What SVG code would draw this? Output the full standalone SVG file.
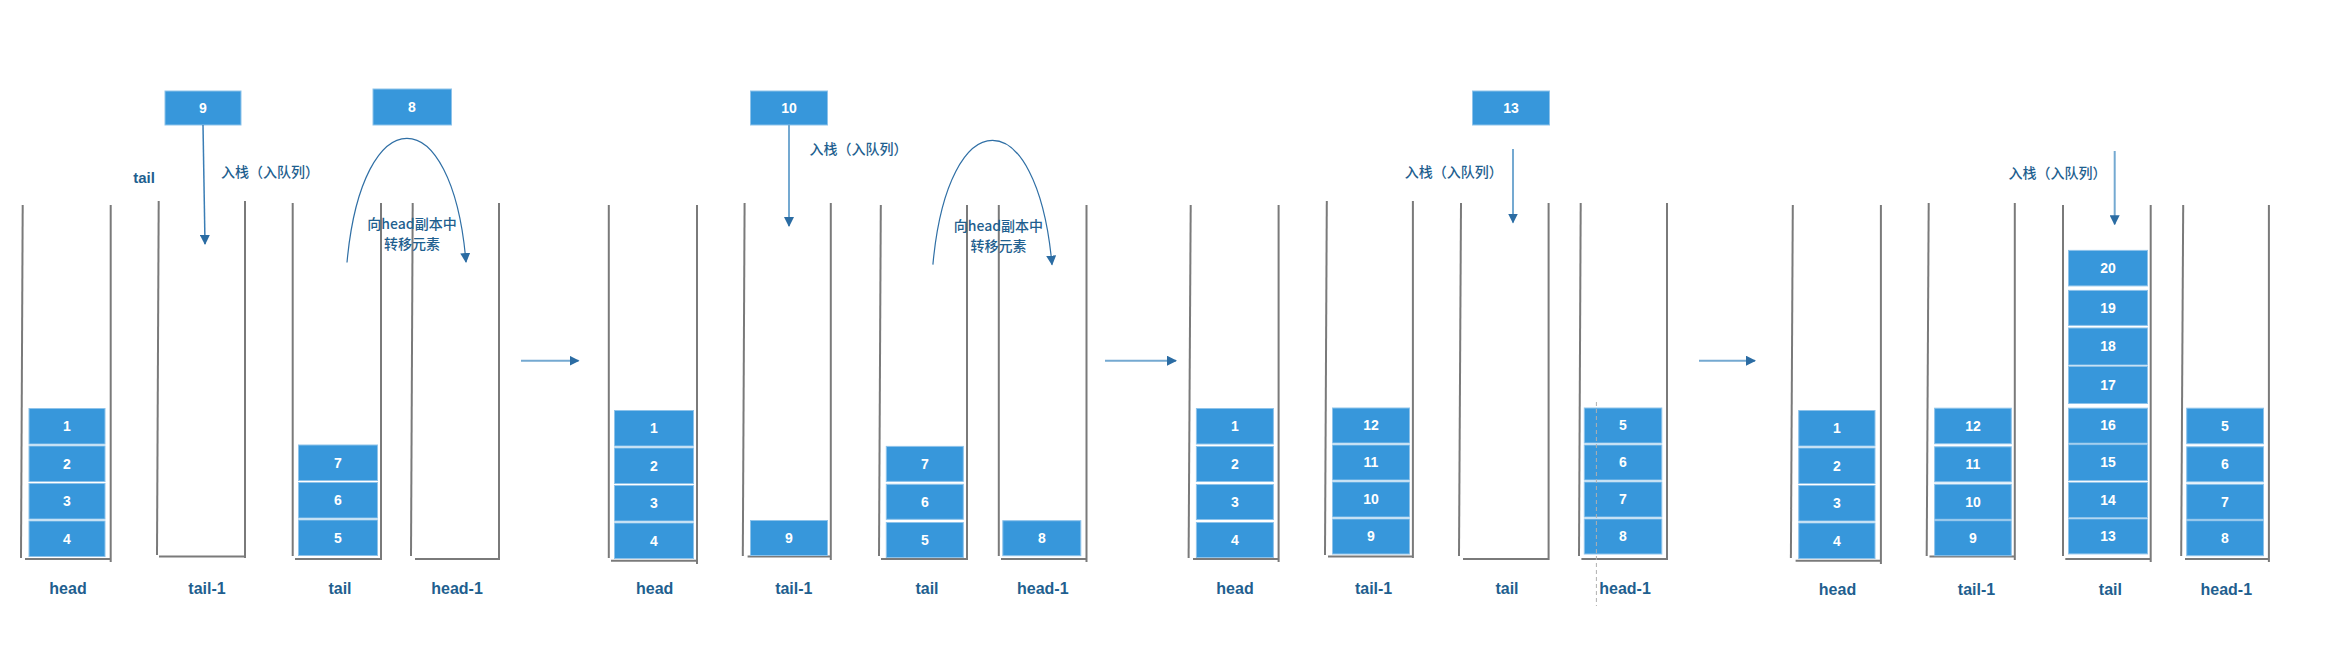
<svg xmlns="http://www.w3.org/2000/svg" width="2334" height="670" viewBox="0 0 2334 670">
<style>
.wall{stroke:#7a7a7a;stroke-width:2;fill:none}
.box{fill:#3797db;stroke:#8ec3ea;stroke-width:1}
.num{fill:#ffffff;font-family:"Liberation Sans","Noto Sans CJK SC",sans-serif;font-size:14px;font-weight:bold;text-anchor:middle}
.lbl{fill:#1f5f8f;font-family:"Liberation Sans","Noto Sans CJK SC",sans-serif;font-size:16px;font-weight:bold;text-anchor:middle}
.cjk{fill:#1f5f8f;font-family:"Noto Sans CJK SC",sans-serif;font-size:14px;font-weight:500;text-anchor:middle}
.arr{stroke:#74a9d1;stroke-width:2;fill:none;marker-end:url(#ah)}
.arrd{stroke:#3a7db5;stroke-width:1.5;fill:none;marker-end:url(#ah)}
.curve{stroke:#2f6fa5;stroke-width:1.2;fill:none;marker-end:url(#ah)}
.dash{stroke:#b0b0b0;stroke-width:1;stroke-dasharray:4 3;fill:none}
</style>
<defs>
<marker id="ah" viewBox="0 0 10 10" markerWidth="10" markerHeight="10" refX="9" refY="5" orient="auto" markerUnits="userSpaceOnUse">
<path d="M0,0 L10,5 L0,10 z" fill="#2b6ca3"/>
</marker>
</defs>
<rect width="2334" height="670" fill="#ffffff"/>

<!-- Panel 1 -->
<g id="p1-head">
<line class="wall" x1="22.7" y1="205" x2="21" y2="558"/><line class="wall" x1="110.7" y1="205" x2="110.7" y2="562"/><line class="wall" x1="25" y1="559" x2="110.7" y2="559"/>
<rect class="box" x="29" y="408.5" width="76" height="35.5"/><text class="num" x="67" y="431">1</text>
<rect class="box" x="29" y="446" width="76" height="35.5"/><text class="num" x="67" y="468.5">2</text>
<rect class="box" x="29" y="483.5" width="76" height="35.5"/><text class="num" x="67" y="506">3</text>
<rect class="box" x="29" y="521" width="76" height="35.5"/><text class="num" x="67" y="543.5">4</text>
<text class="lbl" x="68" y="594">head</text>
</g>
<g id="p1-tail1">
<line class="wall" x1="158.7" y1="201" x2="157" y2="555"/><line class="wall" x1="245" y1="201" x2="245" y2="558"/><line class="wall" x1="159" y1="556.5" x2="245" y2="556.5"/>
<text class="lbl" x="207" y="594">tail-1</text>
</g>
<g id="p1-tail">
<line class="wall" x1="292.7" y1="203" x2="292.7" y2="556"/><line class="wall" x1="381" y1="203" x2="381" y2="560"/><line class="wall" x1="295" y1="559" x2="381" y2="559"/>
<rect class="box" x="298.5" y="445" width="79" height="35.5"/><text class="num" x="338" y="467.5">7</text>
<rect class="box" x="298.5" y="482.5" width="79" height="35.5"/><text class="num" x="338" y="505">6</text>
<rect class="box" x="298.5" y="520" width="79" height="35.5"/><text class="num" x="338" y="542.5">5</text>
<text class="lbl" x="340" y="594">tail</text>
</g>
<g id="p1-head1">
<line class="wall" x1="412.7" y1="203" x2="411" y2="556"/><line class="wall" x1="499" y1="203" x2="499" y2="560"/><line class="wall" x1="415" y1="559" x2="499" y2="559"/>
<text class="lbl" x="457" y="594">head-1</text>
</g>
<g id="p1-in9"><rect class="box" x="165" y="91" width="76" height="34"/><text class="num" x="203" y="113">9</text></g>
<g id="p1-in8"><rect class="box" x="373" y="89" width="78.5" height="36"/><text class="num" x="412" y="112">8</text></g>
<g id="p1-texts">
<text class="lbl" x="144" y="183" style="font-size:15px">tail</text>
<text class="cjk" x="270" y="176.5">入栈（入队列）</text>
<text class="cjk" x="412" y="229">向head副本中</text>
<text class="cjk" x="412" y="249">转移元素</text>
</g>

<!-- Panel 2 -->
<g id="p2-head">
<line class="wall" x1="608.8" y1="205" x2="608.8" y2="558"/><line class="wall" x1="697" y1="205" x2="697" y2="564"/><line class="wall" x1="611" y1="560.7" x2="697" y2="560.7"/>
<rect class="box" x="614.5" y="410.5" width="79" height="35.5"/><text class="num" x="654" y="433">1</text>
<rect class="box" x="614.5" y="448" width="79" height="35.5"/><text class="num" x="654" y="470.5">2</text>
<rect class="box" x="614.5" y="485.5" width="79" height="35.5"/><text class="num" x="654" y="508">3</text>
<rect class="box" x="614.5" y="523" width="79" height="35.5"/><text class="num" x="654" y="545.5">4</text>
<text class="lbl" x="654.7" y="594">head</text>
</g>
<g id="p2-tail1">
<line class="wall" x1="744.6" y1="203" x2="742.8" y2="556"/><line class="wall" x1="830.8" y1="203" x2="830.8" y2="560"/><line class="wall" x1="747.6" y1="556.4" x2="830.8" y2="556.4"/>
<rect class="box" x="750.5" y="520.5" width="77" height="35"/><text class="num" x="789" y="543">9</text>
<text class="lbl" x="793.8" y="594">tail-1</text>
</g>
<g id="p2-tail">
<line class="wall" x1="880.8" y1="205" x2="879" y2="556"/><line class="wall" x1="967" y1="205" x2="967" y2="560"/><line class="wall" x1="881" y1="559" x2="967" y2="559"/>
<rect class="box" x="886.3" y="446.4" width="77" height="35"/><text class="num" x="925" y="468.5">7</text>
<rect class="box" x="886.3" y="484.3" width="77" height="35"/><text class="num" x="925" y="506.5">6</text>
<rect class="box" x="886.3" y="522.5" width="77" height="35"/><text class="num" x="925" y="544.5">5</text>
<text class="lbl" x="927" y="594">tail</text>
</g>
<g id="p2-head1">
<line class="wall" x1="998.8" y1="205" x2="998.8" y2="556"/><line class="wall" x1="1086.5" y1="205" x2="1086.5" y2="562"/><line class="wall" x1="1001" y1="559" x2="1086.5" y2="559"/>
<rect class="box" x="1002.8" y="520.7" width="78" height="35"/><text class="num" x="1042" y="543">8</text>
<text class="lbl" x="1042.8" y="594">head-1</text>
</g>
<g id="p2-in10"><rect class="box" x="750.5" y="91" width="77" height="34"/><text class="num" x="789" y="113">10</text></g>
<g id="p2-texts">
<text class="cjk" x="858.4" y="153.5">入栈（入队列）</text>
<text class="cjk" x="998.4" y="230.5">向head副本中</text>
<text class="cjk" x="998.4" y="250.7">转移元素</text>
</g>

<!-- Panel 3 -->
<g id="p3-head">
<line class="wall" x1="1190.7" y1="205" x2="1188.6" y2="558"/><line class="wall" x1="1278.6" y1="205" x2="1278.6" y2="562"/><line class="wall" x1="1193" y1="559" x2="1278.6" y2="559"/>
<rect class="box" x="1196.4" y="408.5" width="77" height="35.5"/><text class="num" x="1235" y="431">1</text>
<rect class="box" x="1196.4" y="446.5" width="77" height="35"/><text class="num" x="1235" y="468.5">2</text>
<rect class="box" x="1196.4" y="484.5" width="77" height="35"/><text class="num" x="1235" y="506.5">3</text>
<rect class="box" x="1196.4" y="522.5" width="77" height="35"/><text class="num" x="1235" y="544.5">4</text>
<text class="lbl" x="1235" y="594">head</text>
</g>
<g id="p3-tail1">
<line class="wall" x1="1326.8" y1="201" x2="1325" y2="555"/><line class="wall" x1="1412.9" y1="201" x2="1412.9" y2="558"/><line class="wall" x1="1328" y1="556.4" x2="1412.9" y2="556.4"/>
<rect class="box" x="1332.5" y="408" width="77" height="35"/><text class="num" x="1371" y="430">12</text>
<rect class="box" x="1332.5" y="445" width="77" height="35"/><text class="num" x="1371" y="467">11</text>
<rect class="box" x="1332.5" y="482" width="77" height="35"/><text class="num" x="1371" y="504">10</text>
<rect class="box" x="1332.5" y="519" width="77" height="35"/><text class="num" x="1371" y="541">9</text>
<text class="lbl" x="1373.6" y="594">tail-1</text>
</g>
<g id="p3-tail">
<line class="wall" x1="1461" y1="203" x2="1459" y2="556"/><line class="wall" x1="1548.6" y1="203" x2="1548.6" y2="560"/><line class="wall" x1="1463" y1="559" x2="1548.6" y2="559"/>
<text class="lbl" x="1507" y="594">tail</text>
</g>
<g id="p3-head1">
<line class="wall" x1="1580.7" y1="203" x2="1579" y2="556"/><line class="wall" x1="1667" y1="203" x2="1667" y2="560"/><line class="wall" x1="1581.4" y1="559" x2="1667" y2="559"/>
<rect class="box" x="1584.3" y="408" width="77.5" height="35"/><text class="num" x="1623" y="430">5</text>
<rect class="box" x="1584.3" y="445" width="77.5" height="35"/><text class="num" x="1623" y="467">6</text>
<rect class="box" x="1584.3" y="482" width="77.5" height="35"/><text class="num" x="1623" y="504">7</text>
<rect class="box" x="1584.3" y="519" width="77.5" height="35"/><text class="num" x="1623" y="541">8</text>
<line class="dash" x1="1596.4" y1="402" x2="1596.4" y2="606"/>
<text class="lbl" x="1625" y="594">head-1</text>
</g>
<g id="p3-in13"><rect class="box" x="1472.5" y="91" width="77" height="34"/><text class="num" x="1511" y="113">13</text></g>
<g id="p3-texts"><text class="cjk" x="1453.7" y="176.5">入栈（入队列）</text></g>

<!-- Panel 4 -->
<g id="p4-head">
<line class="wall" x1="1792.8" y1="205" x2="1790.9" y2="558"/><line class="wall" x1="1880.9" y1="205" x2="1880.9" y2="564"/><line class="wall" x1="1795.6" y1="560.7" x2="1880.9" y2="560.7"/>
<rect class="box" x="1798.7" y="410.5" width="76.3" height="35.5"/><text class="num" x="1837" y="433">1</text>
<rect class="box" x="1798.7" y="448" width="76.3" height="35.5"/><text class="num" x="1837" y="470.5">2</text>
<rect class="box" x="1798.7" y="485.5" width="76.3" height="35.5"/><text class="num" x="1837" y="508">3</text>
<rect class="box" x="1798.7" y="523" width="76.3" height="35.5"/><text class="num" x="1837" y="545.5">4</text>
<text class="lbl" x="1837.5" y="595">head</text>
</g>
<g id="p4-tail1">
<line class="wall" x1="1928.7" y1="203" x2="1926.7" y2="556"/><line class="wall" x1="2014.8" y1="203" x2="2014.8" y2="560"/><line class="wall" x1="1929.5" y1="556.4" x2="2014.8" y2="556.4"/>
<rect class="box" x="1934.6" y="408.2" width="76.7" height="35.5"/><text class="num" x="1973" y="431">12</text>
<rect class="box" x="1934.6" y="446.8" width="76.7" height="35"/><text class="num" x="1973" y="469">11</text>
<rect class="box" x="1934.6" y="484.3" width="76.7" height="35"/><text class="num" x="1973" y="506.5">10</text>
<rect class="box" x="1934.6" y="520.7" width="76.7" height="35"/><text class="num" x="1973" y="543">9</text>
<text class="lbl" x="1976.5" y="595">tail-1</text>
</g>
<g id="p4-tail">
<line class="wall" x1="2063" y1="205" x2="2063" y2="556"/><line class="wall" x1="2150.7" y1="205" x2="2150.7" y2="562"/><line class="wall" x1="2065.3" y1="559" x2="2150.7" y2="559"/>
<rect class="box" x="2068.5" y="250.4" width="79" height="35.5"/><text class="num" x="2108" y="273">20</text>
<rect class="box" x="2068.5" y="290.4" width="79" height="35"/><text class="num" x="2108" y="312.5">19</text>
<rect class="box" x="2068.5" y="328" width="79" height="37"/><text class="num" x="2108" y="351">18</text>
<rect class="box" x="2068.5" y="366.5" width="79" height="37"/><text class="num" x="2108" y="389.5">17</text>
<rect class="box" x="2068.5" y="408.2" width="79" height="35"/><text class="num" x="2108" y="430">16</text>
<rect class="box" x="2068.5" y="444.6" width="79" height="36"/><text class="num" x="2108" y="467">15</text>
<rect class="box" x="2068.5" y="482.5" width="79" height="35"/><text class="num" x="2108" y="504.5">14</text>
<rect class="box" x="2068.5" y="518.9" width="79" height="35"/><text class="num" x="2108" y="541">13</text>
<text class="lbl" x="2110.4" y="595">tail</text>
</g>
<g id="p4-head1">
<line class="wall" x1="2183.2" y1="205" x2="2181.2" y2="556"/><line class="wall" x1="2268.9" y1="205" x2="2268.9" y2="562"/><line class="wall" x1="2185" y1="559" x2="2268.9" y2="559"/>
<rect class="box" x="2186.7" y="408.2" width="76.8" height="35.5"/><text class="num" x="2225" y="431">5</text>
<rect class="box" x="2186.7" y="446.8" width="76.8" height="35"/><text class="num" x="2225" y="469">6</text>
<rect class="box" x="2186.7" y="484.3" width="76.8" height="35"/><text class="num" x="2225" y="506.5">7</text>
<rect class="box" x="2186.7" y="520.7" width="76.8" height="35"/><text class="num" x="2225" y="543">8</text>
<text class="lbl" x="2226.3" y="595">head-1</text>
</g>
<g id="p4-texts"><text class="cjk" x="2057.4" y="177.5">入栈（入队列）</text></g>

<!-- Connectors -->
<g id="connectors">
<path class="arrd" d="M203,125 L205,244"/>
<path class="curve" d="M347,262.5 C362,97 452,97 466,262"/>
<path class="arr" d="M789,125 L789,226"/>
<path class="curve" d="M932.9,264.6 C948,99 1037,99 1052,264.6"/>
<path class="arr" d="M1513,149 L1513,222.5"/>
<path class="arr" d="M2114.7,151 L2114.7,224.3"/>
<path class="arr" d="M521,360.7 L578.5,360.7"/>
<path class="arr" d="M1105,360.7 L1176,360.7"/>
<path class="arr" d="M1699,360.7 L1755,360.7"/>
</g>
</svg>
